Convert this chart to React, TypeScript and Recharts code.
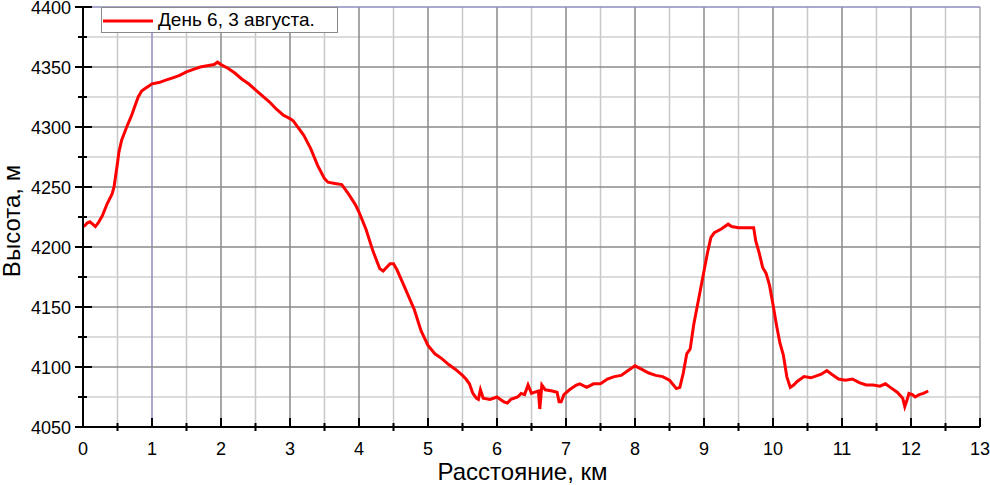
import React from 'react';
import { LineChart, Line, XAxis, YAxis, ReferenceLine, Legend } from 'recharts';

// distance along the route, km
const distanceKm = [
  0.0, 0.03, 0.06, 0.1, 0.14, 0.18, 0.22, 0.28, 0.35, 0.42,
  0.45, 0.47, 0.5, 0.52, 0.56, 0.6, 0.64, 0.7, 0.75, 0.8,
  0.85, 0.9, 0.95, 1.0, 1.1, 1.2, 1.3, 1.4, 1.5, 1.6,
  1.7, 1.8, 1.9, 1.95, 2.0, 2.1, 2.2, 2.3, 2.4, 2.5,
  2.6, 2.7, 2.8, 2.9, 3.0, 3.05, 3.1, 3.2, 3.3, 3.4,
  3.5, 3.55, 3.65, 3.75, 3.85, 3.95, 4.0, 4.1, 4.2, 4.3,
  4.35, 4.45, 4.5, 4.55, 4.65, 4.8, 4.9, 5.0, 5.1, 5.2,
  5.3, 5.4, 5.5, 5.55, 5.6, 5.65, 5.7, 5.73, 5.76, 5.8,
  5.9, 6.0, 6.05, 6.1, 6.15, 6.2, 6.3, 6.35, 6.4, 6.45,
  6.5, 6.55, 6.6, 6.62, 6.65, 6.7, 6.8, 6.87, 6.9, 6.93,
  6.97, 7.05, 7.15, 7.2, 7.3, 7.4, 7.5, 7.6, 7.7, 7.8,
  7.9, 8.0, 8.1, 8.2, 8.3, 8.4, 8.5, 8.6, 8.65, 8.7,
  8.75, 8.8, 8.85, 8.9, 8.95, 9.0, 9.05, 9.1, 9.15, 9.25,
  9.35, 9.4, 9.5, 9.6, 9.72, 9.75, 9.8, 9.85, 9.9, 9.95,
  10.0, 10.05, 10.1, 10.15, 10.2, 10.25, 10.3, 10.35, 10.45, 10.55,
  10.65, 10.7, 10.78, 10.85, 10.95, 11.05, 11.15, 11.25, 11.35, 11.45,
  11.55, 11.63, 11.7, 11.8, 11.88, 11.91, 11.94, 11.97, 12.02, 12.06,
  12.12, 12.18, 12.25,
];

// altitude, m
const altitudeM = [
  4217, 4218, 4220, 4221, 4219, 4217, 4220, 4226, 4236, 4244,
  4250, 4258, 4270, 4279, 4289, 4295, 4301, 4309, 4317, 4325,
  4330, 4332, 4334, 4336, 4337, 4339, 4341, 4343, 4346, 4348,
  4350, 4351, 4352, 4354, 4352, 4349, 4345, 4340, 4336, 4331,
  4326, 4321, 4315, 4310, 4307, 4305, 4301, 4293, 4282, 4268,
  4257, 4254, 4253, 4252, 4244, 4235, 4229, 4215, 4197, 4182,
  4180, 4186, 4186, 4181, 4168, 4148, 4130, 4118, 4111, 4107,
  4102, 4098, 4093, 4090, 4086, 4078, 4074, 4073, 4081, 4074,
  4073, 4075, 4073, 4071, 4070, 4073, 4075, 4078, 4077, 4085,
  4078, 4079, 4080, 4065, 4085, 4081, 4080, 4079, 4071, 4071,
  4077, 4081, 4085, 4086, 4083, 4086, 4086, 4090, 4092, 4093,
  4097, 4101, 4098, 4095, 4093, 4092, 4089, 4082, 4083, 4095,
  4111, 4115, 4135, 4150, 4165, 4180, 4195, 4208, 4212, 4215,
  4219, 4217, 4216, 4216, 4216, 4205, 4195, 4183, 4178, 4168,
  4152, 4135, 4120, 4110, 4092, 4083, 4085, 4088, 4092, 4091,
  4093, 4094, 4097, 4094, 4090, 4089, 4090, 4087, 4085, 4085,
  4084, 4086, 4083, 4079, 4074, 4067, 4072, 4078, 4077, 4075,
  4077, 4078, 4080,
];

const xMajorTicks = [0, 1, 2, 3, 4, 5, 6, 7, 8, 9, 10, 11, 12, 13];
const xMinorTicks = [0.5, 1.5, 2.5, 3.5, 4.5, 5.5, 6.5, 7.5, 8.5, 9.5, 10.5, 11.5, 12.5];
const yMajorTicks = [4050, 4100, 4150, 4200, 4250, 4300, 4350, 4400];
const yMinorTicks = [4075, 4125, 4175, 4225, 4275, 4325, 4375];

const seriesName = 'День 6, 3 августа.';

const data = distanceKm.map((d, i) => ({ d, h: altitudeM[i] }));

const FONT = 'Arial, "Liberation Sans", sans-serif';

const XTick = ({ x, y, payload }: any) => {
  const major = Number.isInteger(payload.value);
  return (
    <g>
      {major ? (
        <line x1={x} x2={x} y1={y - 9} y2={y} stroke="#000" strokeWidth={2} />
      ) : (
        <line x1={x} x2={x} y1={y - 4} y2={y + 4} stroke="#000" strokeWidth={2} />
      )}
      {major && (
        <text x={x} y={y + 28} textAnchor="middle" fontSize={18} fontFamily={FONT} fill="#000">
          {payload.value}
        </text>
      )}
    </g>
  );
};

const YTick = ({ x, y, payload }: any) => {
  const major = payload.value % 50 === 0;
  return (
    <g>
      {major ? (
        <line x1={x - 8} x2={x + 9} y1={y} y2={y} stroke="#000" strokeWidth={2} />
      ) : (
        <line x1={x - 5} x2={x + 4} y1={y} y2={y} stroke="#000" strokeWidth={2} />
      )}
      {major && (
        <text x={x - 12} y={y + 6.5} textAnchor="end" fontSize={18} fontFamily={FONT} fill="#000">
          {payload.value}
        </text>
      )}
    </g>
  );
};

const LegendBox = () => (
  <div
    style={{
      display: 'flex',
      alignItems: 'center',
      height: 24,
      border: '1px solid #8a8a8a',
      background: '#fff',
      fontFamily: FONT,
      fontSize: 19,
      color: '#000',
      whiteSpace: 'nowrap',
    }}
  >
    <svg width={52} height={20} style={{ marginLeft: 1, marginRight: 3 }}>
      <line x1={0} x2={50} y1={11} y2={11} stroke="#ff0000" strokeWidth={3} />
    </svg>
    <span>{seriesName}</span>
  </div>
);

const App: React.FC = () => {
  return (
    <div style={{ position: 'absolute', left: 0, top: 0, width: 990, height: 485, background: '#fff' }}>
      <LineChart width={990} height={485} data={data} margin={{ top: 7, right: 10, left: 0, bottom: 0 }}>
        {xMinorTicks.map((v) => (
          <ReferenceLine key={`xm-${v}`} x={v} stroke="#c8c8c8" strokeWidth={1.5} />
        ))}
        {yMinorTicks.map((v) => (
          <ReferenceLine key={`ym-${v}`} y={v} stroke="#cfcfcf" strokeWidth={1.5} />
        ))}
        {xMajorTicks.map((v) => (
          <ReferenceLine
            key={`xM-${v}`}
            x={v}
            stroke={v === 1 ? '#8c8cc0' : v === 13 ? '#a8a8a8' : '#8a8a8a'}
            strokeWidth={1.5}
          />
        ))}
        {yMajorTicks.map((v) => (
          <ReferenceLine key={`yM-${v}`} y={v} stroke={v === 4400 ? '#8c8cc0' : '#8a8a8a'} strokeWidth={1.5} />
        ))}
        <XAxis
          dataKey="d"
          type="number"
          domain={[0, 13]}
          ticks={[...xMajorTicks, ...xMinorTicks].sort((a, b) => a - b)}
          interval={0}
          height={58}
          tickSize={0}
          tickMargin={0}
          tickLine={false}
          tick={<XTick />}
          axisLine={{ stroke: '#000', strokeWidth: 2 }}
          allowDataOverflow
          label={{
            content: ({ viewBox }: any) => (
              <text
                x={viewBox.x + viewBox.width / 2 - 9}
                y={viewBox.y + 53}
                textAnchor="middle"
                fontSize={24}
                fontFamily={FONT}
                fill="#000"
              >
                Расстояние, км
              </text>
            ),
          }}
        />
        <YAxis
          type="number"
          domain={[4050, 4400]}
          ticks={[...yMajorTicks, ...yMinorTicks].sort((a, b) => a - b)}
          interval={0}
          width={83}
          tickSize={0}
          tickMargin={0}
          tickLine={false}
          tick={<YTick />}
          axisLine={{ stroke: '#000', strokeWidth: 2 }}
          allowDataOverflow
          label={{
            content: ({ viewBox }: any) => {
              const cx = viewBox.x + 20;
              const cy = viewBox.y + viewBox.height / 2 + 4;
              return (
                <text
                  x={cx}
                  y={cy}
                  transform={`rotate(-90, ${cx}, ${cy})`}
                  textAnchor="middle"
                  fontSize={24}
                  fontFamily={FONT}
                  fill="#000"
                >
                  Высота, м
                </text>
              );
            },
          }}
        />
        <Legend
          layout="horizontal"
          verticalAlign="middle"
          align="center"
          wrapperStyle={{ left: 101, top: 7, width: 237 }}
          content={() => <LegendBox />}
        />
        <Line
          type="linear"
          dataKey="h"
          name={seriesName}
          stroke="#ff0000"
          strokeWidth={3}
          dot={false}
          activeDot={false}
          isAnimationActive={false}
        />
      </LineChart>
    </div>
  );
};

export default App;
